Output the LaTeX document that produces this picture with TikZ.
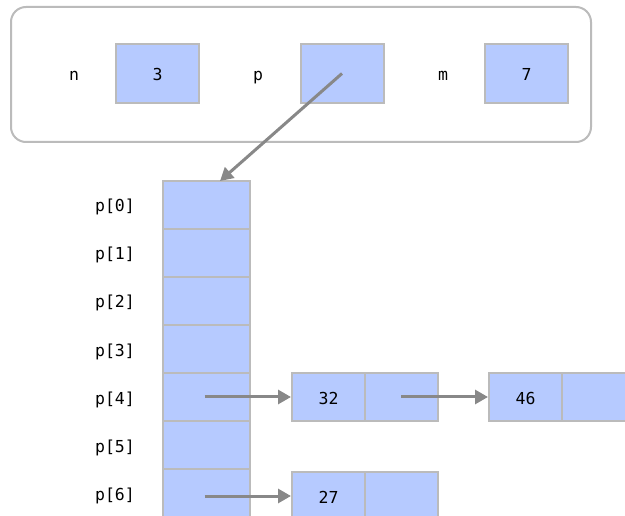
\documentclass[tikz,border=0pt]{standalone}
\usepackage{fontspec}
\setmonofont{DejaVu Sans Mono}
\usetikzlibrary{arrows.meta,positioning}
\definecolor{cellblue}{RGB}{182,202,255}
\definecolor{cellgray}{RGB}{187,187,187}
\definecolor{ptrgray}{RGB}{136,136,136}

\begin{document}
\begin{tikzpicture}[x=1pt,y=-1pt,
    every node/.style={font=\ttfamily\fontsize{16.5}{20}\selectfont,text height=14pt,text depth=0pt},
    cell/.style={draw=cellgray,line width=2pt,fill=cellblue,inner sep=0pt},
    varbox/.style={cell,minimum width=83pt,minimum height=59pt},
    arrbox/.style={cell,minimum width=87pt,minimum height=48pt},
    listbox/.style={cell,minimum width=73pt,minimum height=48pt},
    ptr/.style={ptrgray,line width=3pt,-{Triangle[length=13pt,width=14pt]}}]
      \useasboundingbox (0,0) rectangle (625,516);
      \clip (0,0) rectangle (625,516);
      % Stack frame
      \draw[cellgray,line width=2pt,rounded corners=15pt] (11,7) rectangle (591,142);
      \node (nlab) at (74,74) {n};
      \node[varbox] (nval) at (157.5,73.5) {3};
      \node (plab) at (258,74) {p};
      \node[varbox] (pval) at (342,73.5) {};
      \node (mlab) at (443,74) {m};
      \node[varbox] (mval) at (526.5,73.5) {7};
      % Array of pointers
      \foreach \i in {0,...,6}{
        \node[arrbox] (p\i) at (206.5,205+48*\i) {};
        \node (plab\i) at (115,205+48*\i) {p[\i]};
      }
      \coordinate (ptop) at (220,181);
      % List nodes
      \node[listbox] (a32) at (328.5,397) {32};
      \node[listbox] (a32next) at (401,397) {};
      \node[listbox] (a46) at (525.5,397) {46};
      \node[listbox] (a46next) at (598,397) {};
      \node[listbox] (b27) at (328.5,496) {27};
      \node[listbox] (b27next) at (401,496) {};
      % Pointers
      \draw[ptr] (pval.center) -- (ptop);
      \draw[ptr] (p4.center) ++(-2,0) -- (a32.west);
      \draw[ptr] (a32next.center) -- (a46.west);
      \draw[ptr] (p6.center |- b27.west) ++(-2,0) -- (b27.west);
\end{tikzpicture}
\end{document}
